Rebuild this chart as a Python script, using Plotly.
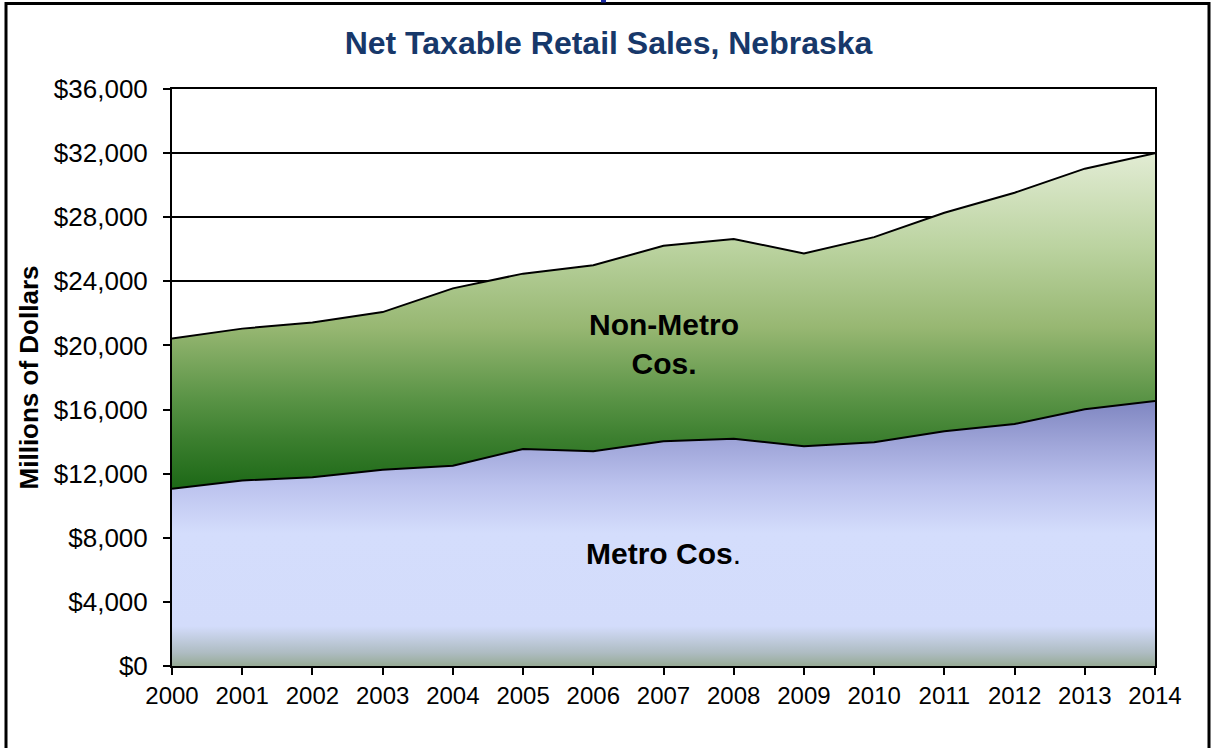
import plotly.graph_objects as go

# Net taxable retail sales, millions of dollars
years = list(range(2000, 2015))
metro_sales = [11060, 11580, 11770, 12250, 12500, 13540, 13400, 14020,
               14180, 13710, 13960, 14650, 15100, 16020, 16530]
nonmetro_sales = [9380, 9470, 9660, 9830, 11060, 10940, 11600, 12200,
                  12460, 12030, 12800, 13630, 14430, 15010, 15470]
y_ticks = list(range(0, 36001, 4000))
y_tick_labels = [f"${v:,}" for v in y_ticks]

W, H = 1217, 748
L, R, T, B = 172, 62, 89, 82
PW, PH = W - L - R, H - T - B


def px_x(p):
    return (p - L) / PW


def px_y(p):
    return (H - B - p) / PH


fig = go.Figure()

fig.add_trace(go.Scatter(
    x=years, y=metro_sales, name="Metro Cos.", stackgroup="s",
    mode="lines", line=dict(color="black", width=2),
    fillgradient=dict(
        type="vertical", start=0, stop=max(metro_sales),
        colorscale=[[0.0, "#97ab96"], [0.05, "#aebcc2"], [0.15, "#d3dcfb"],
                    [0.5, "#d4ddfc"], [0.68, "#bcc3ee"], [0.83, "#a1a7da"],
                    [1.0, "#7f86c1"]],
    ),
))

totals = [a + b for a, b in zip(metro_sales, nonmetro_sales)]
fig.add_trace(go.Scatter(
    x=years, y=nonmetro_sales, name="Non-Metro Cos.", stackgroup="s",
    mode="lines", line=dict(color="black", width=2),
    fillgradient=dict(
        type="vertical", start=min(metro_sales), stop=max(totals),
        colorscale=[[0.0, "#1c6816"], [0.15, "#3c7f2f"], [0.27, "#5a9446"],
                    [0.48, "#97b772"], [0.72, "#bbd3a0"], [1.0, "#e2ecd4"]],
    ),
))

fig.add_annotation(x=2007, y=20100, text="<b>Non-Metro<br>Cos.</b>",
                   showarrow=False, font=dict(size=30, color="black"))
fig.add_annotation(x=2007, y=7050, text="<b>Metro Cos</b>.",
                   showarrow=False, font=dict(size=30, color="black"))

# outer chart frame
fig.add_shape(type="rect", xref="paper", yref="paper",
              x0=px_x(6), x1=px_x(1209), y0=px_y(775), y1=px_y(3.5),
              line=dict(color="black", width=3), layer="below")
# small blue mark on the top edge
fig.add_shape(type="rect", xref="paper", yref="paper",
              x0=px_x(601), x1=px_x(606), y0=px_y(2.5), y1=px_y(0),
              line=dict(width=0), fillcolor="#1c2ca6", layer="above")

fig.update_layout(
    width=W, height=H,
    margin=dict(l=L, r=R, t=T, b=B),
    paper_bgcolor="white", plot_bgcolor="white",
    showlegend=False,
    font=dict(family="Liberation Sans, Arial, sans-serif", color="black"),
    title=dict(text="<b>Net Taxable Retail Sales, Nebraska</b>",
               x=0.5, xanchor="center", y=1 - 43 / H, yanchor="middle",
               font=dict(size=32, color="#17386a")),
)

fig.update_xaxes(
    range=[2000, 2014], tickvals=years, ticktext=[str(y) for y in years],
    ticks="outside", ticklen=7, tickwidth=1.5, tickcolor="black",
    showline=True, linecolor="black", linewidth=2, mirror=True,
    showgrid=False, zeroline=False,
    tickfont=dict(size=24, color="black"),
)
fig.update_yaxes(
    range=[0, 36000], tickvals=y_ticks, ticktext=y_tick_labels,
    ticks="outside", ticklen=7, tickwidth=1.5, tickcolor="black",
    showline=True, linecolor="black", linewidth=2, mirror=True,
    showgrid=True, gridcolor="black", gridwidth=2, zeroline=False,
    tickfont=dict(size=26, color="black"), ticklabelstandoff=10,
    title=dict(text="<b>Millions of Dollars</b>", standoff=8,
               font=dict(size=26, color="black")),
)

fig.write_html("out.html")
